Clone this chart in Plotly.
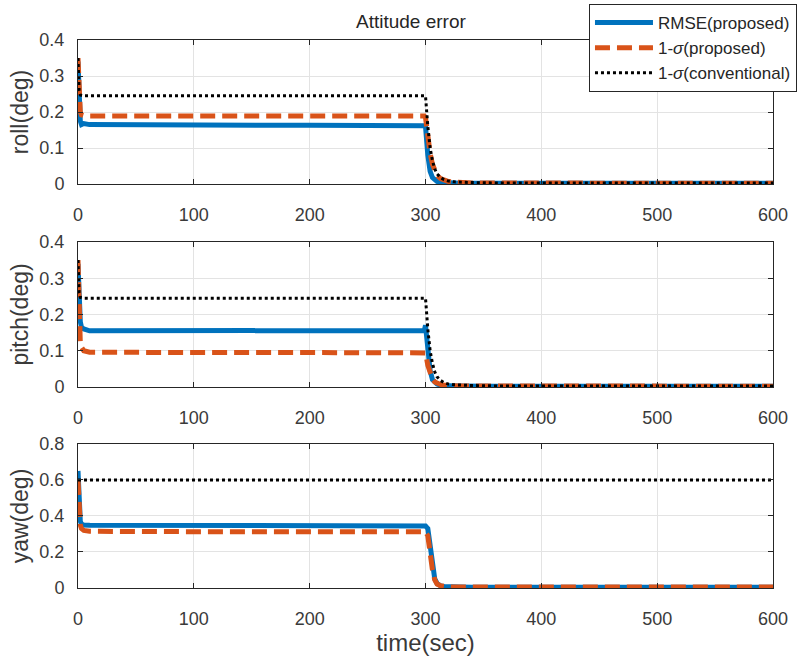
import plotly.graph_objects as go

# ---------------- data ----------------
time = [0, 1, 2, 3, 5, 10, 50, 100, 200, 299, 300, 302, 304, 306, 308, 310,
        313, 316, 320, 325, 330, 340, 360, 400, 500, 600]

roll_rmse = [0.34, 0.22, 0.175, 0.165, 0.168, 0.165, 0.164, 0.163, 0.163, 0.162,
             0.160, 0.080, 0.035, 0.018, 0.010, 0.007, 0.005, 0.004, 0.003, 0.003,
             0.002, 0.002, 0.002, 0.002, 0.002, 0.002]
roll_sig_prop = [0.35, 0.25, 0.20, 0.192, 0.190, 0.189, 0.189, 0.189, 0.189, 0.189,
                 0.185, 0.130, 0.085, 0.055, 0.035, 0.024, 0.015, 0.010, 0.007, 0.005,
                 0.004, 0.003, 0.003, 0.002, 0.002, 0.002]
roll_sig_conv = [0.35, 0.26, 0.247, 0.246, 0.245, 0.245, 0.245, 0.245, 0.245, 0.245,
                 0.245, 0.160, 0.100, 0.065, 0.042, 0.028, 0.018, 0.012, 0.008, 0.006,
                 0.005, 0.004, 0.003, 0.003, 0.003, 0.003]

pitch_rmse = [0.34, 0.22, 0.18, 0.165, 0.160, 0.155, 0.155, 0.155, 0.155, 0.156,
              0.170, 0.100, 0.045, 0.020, 0.012, 0.008, 0.005, 0.004, 0.003, 0.003,
              0.003, 0.002, 0.002, 0.002, 0.002, 0.002]
pitch_sig_prop = [0.35, 0.15, 0.12, 0.11, 0.100, 0.096, 0.095, 0.095, 0.095, 0.095,
                  0.094, 0.060, 0.035, 0.022, 0.014, 0.010, 0.007, 0.005, 0.004, 0.003,
                  0.003, 0.003, 0.003, 0.002, 0.002, 0.002]
pitch_sig_conv = [0.35, 0.26, 0.247, 0.246, 0.245, 0.245, 0.245, 0.245, 0.245, 0.245,
                  0.245, 0.160, 0.100, 0.065, 0.042, 0.028, 0.018, 0.012, 0.008, 0.006,
                  0.005, 0.004, 0.003, 0.003, 0.003, 0.003]

yaw_rmse = [0.65, 0.45, 0.37, 0.355, 0.350, 0.348, 0.347, 0.345, 0.345, 0.345,
            0.345, 0.330, 0.220, 0.110, 0.050, 0.025, 0.012, 0.008, 0.006, 0.005,
            0.005, 0.004, 0.004, 0.004, 0.004, 0.004]
yaw_sig_prop = [0.60, 0.42, 0.35, 0.33, 0.320, 0.315, 0.313, 0.313, 0.313, 0.313,
                0.313, 0.290, 0.190, 0.100, 0.045, 0.022, 0.012, 0.008, 0.006, 0.005,
                0.005, 0.005, 0.005, 0.005, 0.005, 0.005]
yaw_sig_conv = [0.60] * len(time)

x_ticks = [0, 100, 200, 300, 400, 500, 600]
roll_ticks = [0, 0.1, 0.2, 0.3, 0.4]
roll_tick_labels = ["0", "0.1", "0.2", "0.3", "0.4"]
pitch_ticks = [0, 0.1, 0.2, 0.3, 0.4]
pitch_tick_labels = ["0", "0.1", "0.2", "0.3", "0.4"]
yaw_ticks = [0, 0.2, 0.4, 0.6, 0.8]
yaw_tick_labels = ["0", "0.2", "0.4", "0.6", "0.8"]

series_names = ["RMSE(proposed)", "1-<i>σ</i>(proposed)", "1-<i>σ</i>(conventional)"]
y_titles = ["roll(deg)", "pitch(deg)", "yaw(deg)"]

# ---------------- styling ----------------
BLUE = "#0072BD"
ORANGE = "#D95319"
AX = "#262626"
TXT = "#3a3a3a"
FONT = "Liberation Sans, Arial, sans-serif"

styles = [
    dict(color=BLUE, width=5, dash="solid"),
    dict(color=ORANGE, width=5, dash="15px,7px"),
    dict(color="black", width=3, dash="3px,3px"),
]

panels = [
    (roll_rmse, roll_sig_prop, roll_sig_conv, [0, 0.4], roll_ticks, roll_tick_labels),
    (pitch_rmse, pitch_sig_prop, pitch_sig_conv, [0, 0.4], pitch_ticks, pitch_tick_labels),
    (yaw_rmse, yaw_sig_prop, yaw_sig_conv, [0, 0.8], yaw_ticks, yaw_tick_labels),
]

domains = [[0.7372, 1.0], [0.3668, 0.6314], [0.0, 0.2628]]

fig = go.Figure()
layout = {}
for i, (a, b, c, yr, yt, ytl) in enumerate(panels):
    n = i + 1
    xa = "x" if n == 1 else f"x{n}"
    ya = "y" if n == 1 else f"y{n}"
    for k, vals in enumerate([a, b, c]):
        fig.add_trace(go.Scatter(
            x=time, y=vals, mode="lines", line=styles[k], name=series_names[k],
            showlegend=(i == 0), legendgroup=str(k), xaxis=xa, yaxis=ya,
        ))
    xkey = "xaxis" if n == 1 else f"xaxis{n}"
    ykey = "yaxis" if n == 1 else f"yaxis{n}"
    layout[xkey] = dict(
        domain=[0, 1], anchor=ya, range=[0, 600], tickvals=x_ticks,
        ticktext=[str(v) for v in x_ticks],
        showgrid=True, gridcolor="#e3e3e3", gridwidth=1, zeroline=False,
        showline=True, linecolor=AX, linewidth=1, mirror="ticks",
        ticks="inside", ticklen=5, tickcolor=AX,
        tickfont=dict(size=18, color=TXT, family=FONT),
        ticklabelstandoff=14,
        title=dict(text="time(sec)" if n == 3 else "",
                   font=dict(size=24, color=TXT, family=FONT), standoff=4),
    )
    layout[ykey] = dict(
        domain=domains[i], anchor=xa, range=yr, tickvals=yt, ticktext=ytl,
        showgrid=True, gridcolor="#e3e3e3", gridwidth=1, zeroline=False,
        showline=True, linecolor=AX, linewidth=1, mirror="ticks",
        ticks="inside", ticklen=5, tickcolor=AX,
        tickfont=dict(size=18, color=TXT, family=FONT),
        ticklabelstandoff=9,
        title=dict(text=y_titles[i], font=dict(size=23, color=TXT, family=FONT),
                   standoff=4),
    )

fig.update_layout(**layout)
fig.update_layout(
    width=799, height=658,
    margin=dict(l=78, r=26, t=40, b=70, autoexpand=False),
    paper_bgcolor="white", plot_bgcolor="white",
    font=dict(family=FONT, color="#262626"),
    showlegend=True,
    legend=dict(
        x=1.0345, y=1.0657, xanchor="right", yanchor="top",
        bgcolor="white", bordercolor=AX, borderwidth=1,
        font=dict(size=17, color="#262626", family=FONT),
        itemwidth=58, tracegroupgap=0,
    ),
    annotations=[dict(
        text="Attitude error", x=0.479, y=1.0, xref="paper", yref="paper",
        xanchor="center", yanchor="bottom", yshift=6, showarrow=False,
        font=dict(size=19, color="#262626", family=FONT),
    )],
)

fig.write_html("out.html", config={"displayModeBar": False},
               post_script="document.body.style.margin='0';")
